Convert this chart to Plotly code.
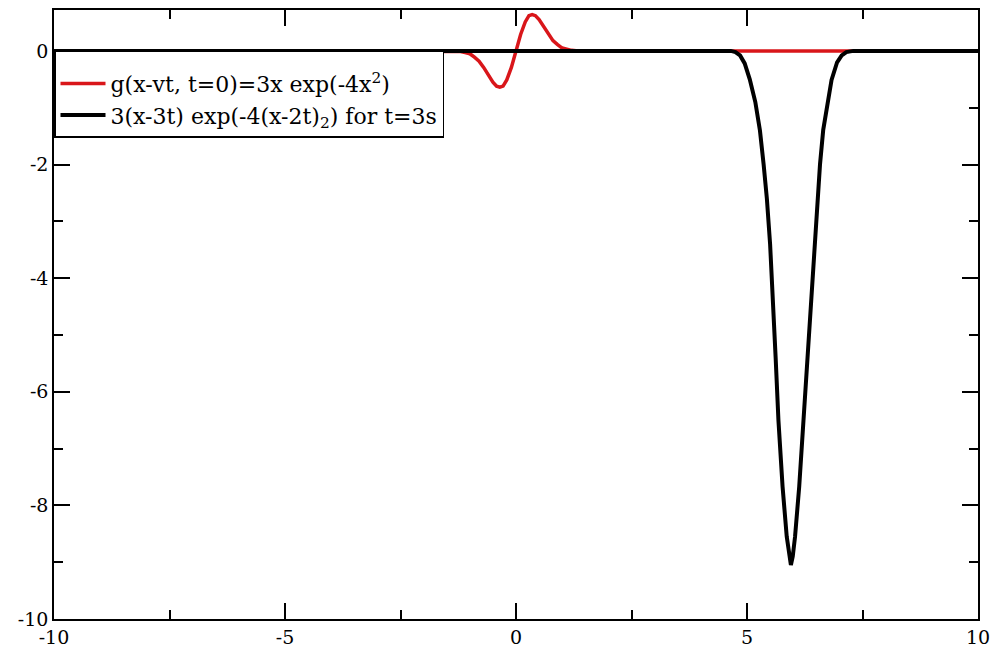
import plotly.graph_objects as go

# Red: g(x-vt, t=0) = 3x exp(-4x^2)
red_x = [-10, -1.35, -1.2, -1.1, -1.0, -0.9, -0.8, -0.7, -0.6, -0.5, -0.42, -0.35, -0.28, -0.2, -0.1, 0,
         0.1, 0.2, 0.28, 0.35, 0.42, 0.5, 0.6, 0.7, 0.8, 0.9, 1.0, 1.1, 1.2, 1.35, 10]
red_y = [0, 0, -0.01, -0.03, -0.05, -0.11, -0.18, -0.29, -0.43, -0.55, -0.62, -0.64, -0.62, -0.51, -0.29, 0,
         0.29, 0.51, 0.62, 0.64, 0.62, 0.55, 0.43, 0.29, 0.18, 0.11, 0.05, 0.03, 0.01, 0, 0]

# Black: 3(x-3t) exp(-4(x-2t)^2) for t=3s
black_x = [-10, 4.65, 4.75, 4.85, 4.95, 5.06, 5.18, 5.28, 5.36, 5.43, 5.5, 5.56, 5.62, 5.68, 5.77, 5.86, 5.91, 5.95,
           5.99, 6.04, 6.13, 6.22, 6.29, 6.35, 6.42, 6.51, 6.58, 6.65, 6.74, 6.83, 6.95, 7.05, 7.15, 7.3, 10]
black_y = [0, 0, -0.02, -0.08, -0.22, -0.5, -0.9, -1.4, -2.0, -2.6, -3.4, -4.3, -5.4, -6.5, -7.67, -8.55, -8.9, -9.05,
           -8.9, -8.55, -7.67, -6.5, -5.5, -4.8, -3.9, -2.7, -2.0, -1.39, -0.9, -0.51, -0.2, -0.08, -0.02, 0, 0]

x_ticks = [-10, -5, 0, 5, 10]
y_ticks = [-10, -8, -6, -4, -2, 0]

red_name = "g(x-vt, t=0)=3x exp(-4x<sup>2</sup>)"
black_name = "3(x-3t) exp(-4(x-2t)<sub>2</sub>) for t=3s"

SERIF = "DejaVu Serif"

fig = go.Figure()
fig.add_trace(go.Scatter(x=red_x, y=red_y, mode="lines", name=red_name,
                         line=dict(color="#d9161a", width=3.5, shape="linear")))
fig.add_trace(go.Scatter(x=black_x, y=black_y, mode="lines", name=black_name,
                         line=dict(color="black", width=4, shape="linear")))

axis_common = dict(
    showgrid=False, zeroline=False, showline=True, linecolor="black", linewidth=1.5,
    mirror="ticks", ticks="inside", ticklen=16, tickwidth=1.5, tickcolor="black",
    tickfont=dict(family=SERIF, size=19, color="black"), automargin=False,
)

fig.update_xaxes(range=[-10, 10], tickvals=x_ticks, ticktext=[str(v) for v in x_ticks],
                 minor=dict(ticks="inside", ticklen=9, tickwidth=1.5, tickcolor="black", dtick=2.5, tick0=-10),
                 **axis_common)
fig.update_yaxes(range=[-10, 0.72], tickvals=y_ticks, ticktext=[str(v) for v in y_ticks],
                 minor=dict(ticks="inside", ticklen=9, tickwidth=1.5, tickcolor="black", dtick=1, tick0=-1),
                 **axis_common)

fig.update_layout(
    width=992, height=647,
    margin=dict(l=54, r=14, t=10, b=28),
    plot_bgcolor="white", paper_bgcolor="white",
    showlegend=True,
    font=dict(family=SERIF),
    legend=dict(x=0.0, y=0.933, xanchor="left", yanchor="top",
                bgcolor="white", bordercolor="black", borderwidth=1.5,
                font=dict(family=SERIF, size=22, color="black"),
                title=dict(text=" ", font=dict(family=SERIF, size=8)),
                itemwidth=45),
)

fig.write_html("out.html", config={"displayModeBar": False},
               post_script="document.body.style.margin='0';document.body.style.overflow='hidden';")
